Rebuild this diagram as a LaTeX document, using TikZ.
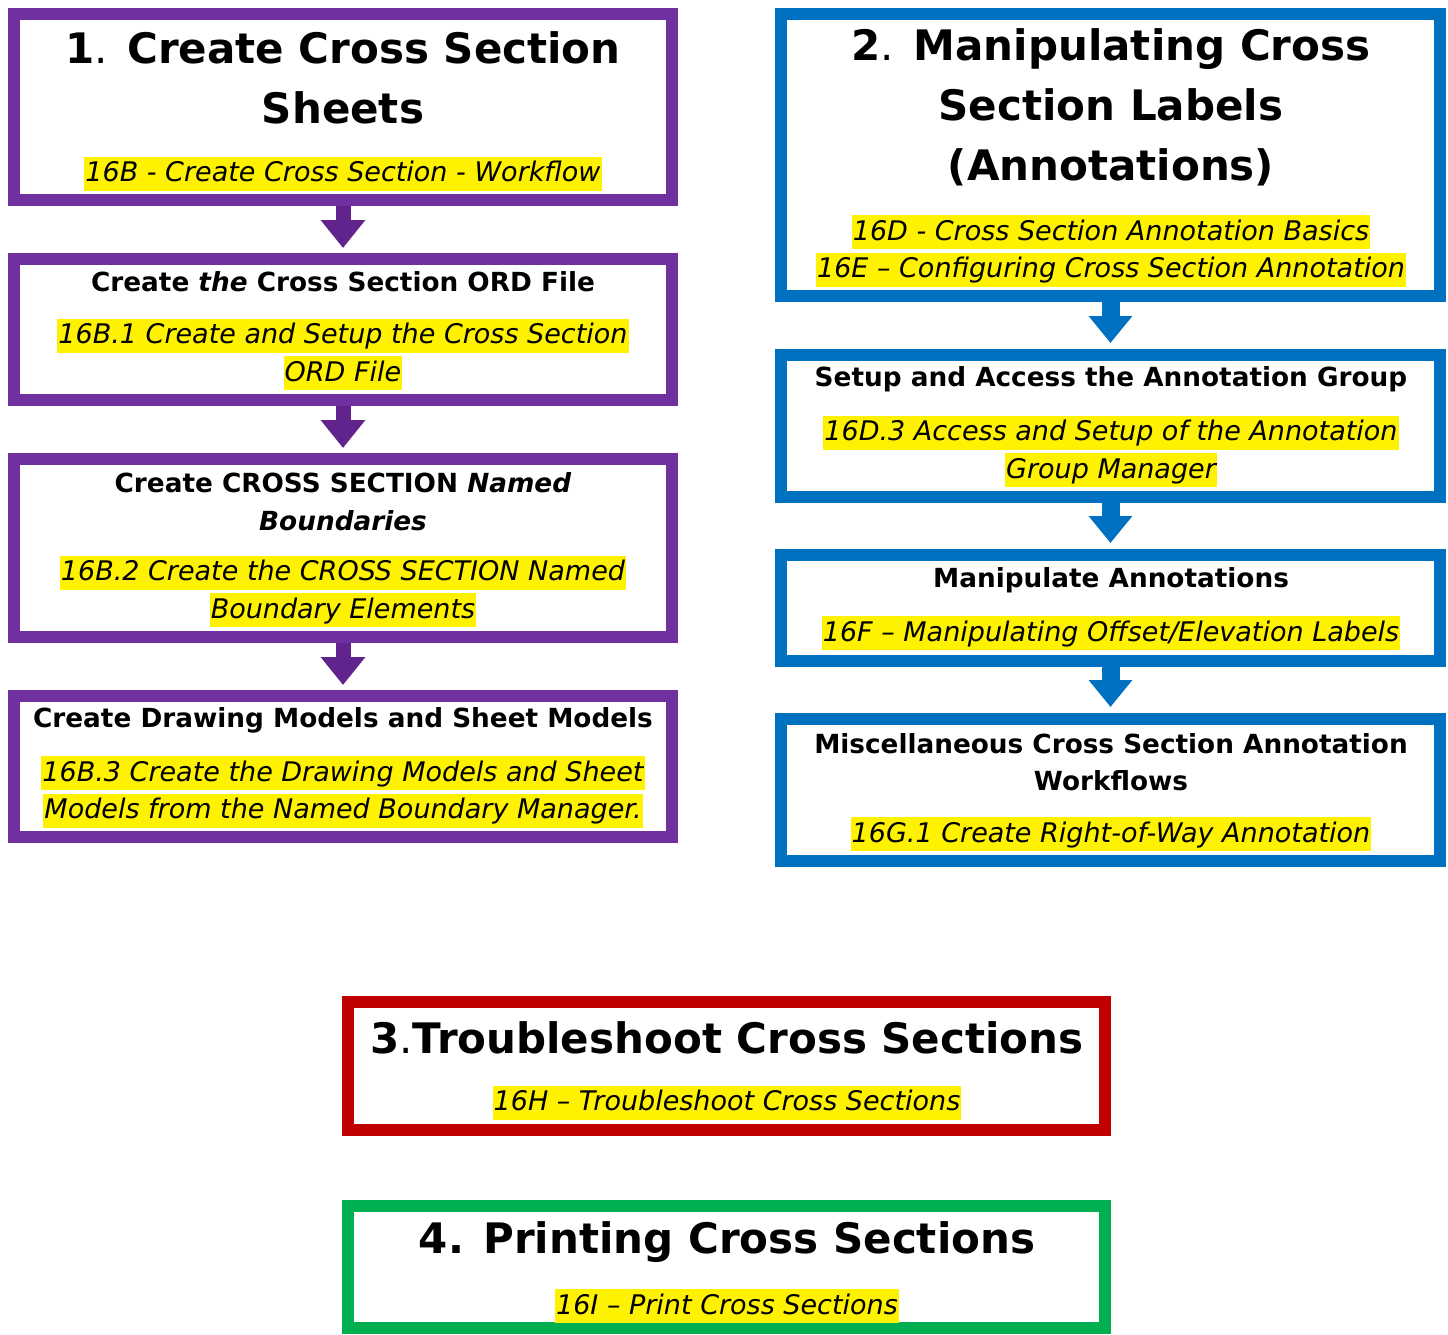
\documentclass[tikz,border=0pt]{standalone}
\usepackage{fontspec}
\setmainfont{DejaVu Sans}
\usetikzlibrary{arrows.meta}
\definecolor{P}{RGB}{112, 48, 160}
\definecolor{PA}{RGB}{96, 36, 140}
\definecolor{B}{RGB}{0, 112, 192}
\definecolor{R}{RGB}{192, 0, 0}
\definecolor{G}{RGB}{0, 176, 80}
\newcommand{\hl}[1]{{\setlength{\fboxsep}{1pt}\colorbox{yellow}{\rule[-8pt]{0pt}{32pt}#1}}}
\tikzset{
  frame/.style={draw, line width=12pt, fill=white, inner sep=0pt},
  title/.style={font=\bfseries\fontsize{42}{60}\selectfont, align=center},
  head/.style={font=\bfseries\fontsize{26.3}{37.5}\selectfont, align=center},
  ref/.style={font=\itshape\fontsize{27}{37.5}\selectfont, align=center},
  parrow/.style={draw=PA, line width=15pt, -{Triangle[length=28pt,width=43pt]}, shorten >=5pt},
  barrow/.style={draw=B, line width=18pt, -{Triangle[length=27pt,width=42pt]}, shorten >=6pt}
}

\begin{document}
\begin{tikzpicture}[x=1pt,y=-1pt]
  \useasboundingbox (0,0) rectangle (1448,1334);

	%# COLUMN 1
  \node[frame, draw=P, minimum width=658pt, minimum height=186pt] (s1) at (343,107) {};
  \node[frame, draw=P, minimum width=658pt, minimum height=141pt] (s1a) at (343,329.5) {};
  \node[frame, draw=P, minimum width=658pt, minimum height=178pt] (s1b) at (343,548) {};
  \node[frame, draw=P, minimum width=658pt, minimum height=141pt] (s1c) at (343,766.5) {};

	\node[title] (t1) at (343,77.5) {1\textmd{.} Create Cross Section\\Sheets};
	\node[ref] (r1) at (343,173.5) {\hl{16B - Create Cross Section - Workflow}};
	\node[head] (h1a) at (343,282) {Create \textit{the} Cross Section ORD File};
	\node[ref] (r1a) at (343,354.5) {\hl{16B.1 Create and Setup the Cross Section}\\\hl{ORD File}};
	\node[head] (h1b) at (343,501.5) {Create CROSS SECTION \textit{Named}\\\textit{Boundaries}};
	\node[ref] (r1b) at (343,591.5) {\hl{16B.2 Create the CROSS SECTION Named}\\\hl{Boundary Elements}};
	\node[head] (h1c) at (343,720) {Create Drawing Models and Sheet Models};
	\node[ref] (r1c) at (343,792) {\hl{16B.3 Create the Drawing Models and Sheet}\\\hl{Models from the Named Boundary Manager.}};

	\draw[parrow] (s1.south) -- (s1a.north);
	\draw[parrow] (s1a.south) -- (s1b.north);
	\draw[parrow] (s1b.south) -- (s1c.north);

	%# COLUMN 2
  \node[frame, draw=B, minimum width=659pt, minimum height=282pt] (s2) at (1110.5,155) {};
  \node[frame, draw=B, minimum width=659pt, minimum height=142pt] (s2a) at (1110.5,426) {};
  \node[frame, draw=B, minimum width=659pt, minimum height=106pt] (s2b) at (1110.5,608) {};
  \node[frame, draw=B, minimum width=659pt, minimum height=142pt] (s2c) at (1110.5,790) {};

	\node[title] (t2) at (1111,107.5) {2\textmd{.} Manipulating Cross\\Section Labels\\(Annotations)};
	\node[ref] (r2) at (1111,251) {\hl{16D - Cross Section Annotation Basics}\\\hl{16E -- Configuring Cross Section Annotation}};
	\node[head] (h2a) at (1111,379) {Setup and Access the Annotation Group};
	\node[ref] (r2a) at (1111,451.5) {\hl{16D.3 Access and Setup of the Annotation}\\\hl{Group Manager}};
	\node[head] (h2b) at (1111,580) {Manipulate Annotations};
	\node[ref] (r2b) at (1111,633) {\hl{16F -- Manipulating Offset/Elevation Labels}};
	\node[head] (h2c) at (1111,762) {Miscellaneous Cross Section Annotation\\Workflows};
	\node[ref] (r2c) at (1111,834) {\hl{16G.1 Create Right-of-Way Annotation}};

	\draw[barrow] (s2.south) -- (s2a.north);
	\draw[barrow] (s2a.south) -- (s2b.north);
	\draw[barrow] (s2b.south) -- (s2c.north);

	%# TROUBLESHOOT
  \node[frame, draw=R, minimum width=757pt, minimum height=128pt] (s3) at (726.5,1066) {};
	\node[title] (t3) at (727,1038) {3\textmd{.}Troubleshoot Cross Sections};
	\node[ref] (r3) at (727,1102.5) {\hl{16H -- Troubleshoot Cross Sections}};

	%# PRINTING
  \node[frame, draw=G, minimum width=757pt, minimum height=122pt] (s4) at (726.5,1267) {};
	\node[title] (t4) at (727,1242) {4. Printing Cross Sections};
	\node[ref] (r4) at (727,1306) {\hl{16I -- Print Cross Sections}};
\end{tikzpicture}
\end{document}
